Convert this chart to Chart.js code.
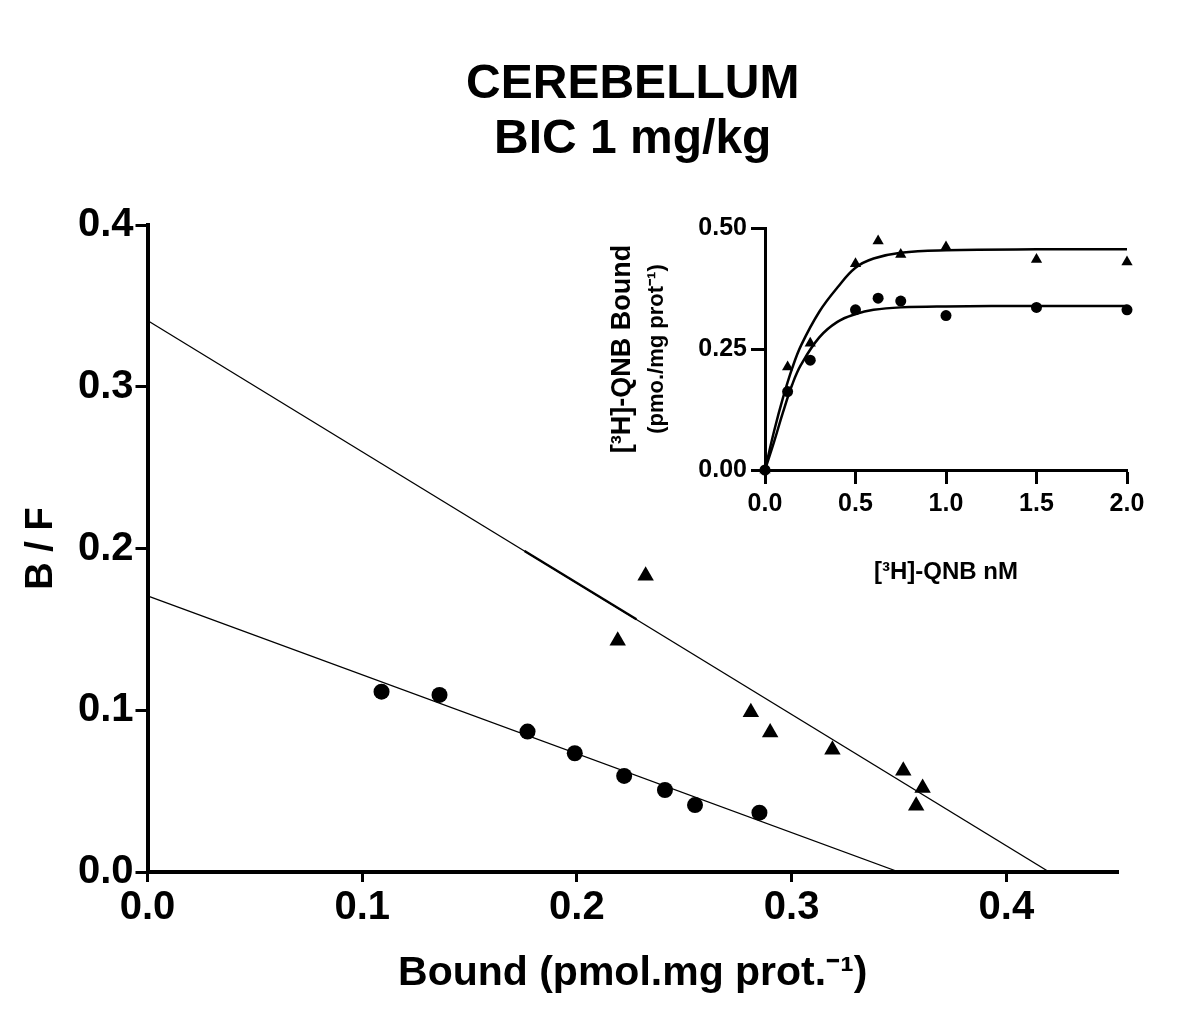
<!DOCTYPE html>
<html>
<head>
<meta charset="utf-8">
<script src="https://cdn.jsdelivr.net/npm/chart.js@4.4.1/dist/chart.umd.min.js"></script>
<style>
body { margin: 0; background: #fff; }
#wrap { position: relative; width: 1200px; height: 1009px; }
#mainChart { position: absolute; left: 0; top: 0; }
#insetChart { position: absolute; left: 590px; top: 195px; }
</style>
</head>
<body>
<div id="wrap">
<canvas id="mainChart" width="1200" height="1009"></canvas>
<canvas id="insetChart" width="570" height="405"></canvas>
</div>
<script>
// Scatchard plot (main)
var circleBound = [0.109, 0.136, 0.177, 0.199, 0.222, 0.241, 0.255, 0.285];
var circleBF    = [0.1115, 0.1095, 0.0868, 0.0734, 0.0594, 0.0507, 0.0414, 0.0367];
var triBound    = [0.232, 0.219, 0.281, 0.290, 0.319, 0.352, 0.361, 0.358];
var triBF       = [0.1832, 0.1430, 0.0987, 0.0863, 0.0756, 0.0626, 0.0519, 0.0410];

var circleFitBound = [0, 0.350];
var circleFitBF    = [0.1707, 0];
var triFitBound    = [0, 0.420];
var triFitBF       = [0.341, 0];
var triFitBoldBound = [0.1756, 0.2277];
var triFitBoldBF    = [0.1985, 0.1562];

var mainXTicks = [0, 0.1, 0.2, 0.3, 0.4];
var mainYTicks = [0, 0.1, 0.2, 0.3, 0.4];

// saturation curves (inset)
var conc        = [0, 0.125, 0.25, 0.5, 0.625, 0.75, 1.0, 1.5, 2.0];
var insetTri    = [0, 0.213, 0.262, 0.426, 0.473, 0.445, 0.461, 0.435, 0.430];
var insetCircle = [0, 0.162, 0.227, 0.331, 0.355, 0.349, 0.319, 0.336, 0.331];
var curveConc   = [0, 0.05, 0.1, 0.15, 0.2, 0.3, 0.4, 0.5, 0.6, 0.75, 1.0, 1.5, 2.0];
var curveTri    = [0, 0.080, 0.150, 0.210, 0.258, 0.327, 0.377, 0.418, 0.437, 0.449, 0.454, 0.456, 0.456];
var curveCircle = [0, 0.058, 0.120, 0.176, 0.218, 0.274, 0.306, 0.322, 0.331, 0.336, 0.338, 0.339, 0.339];

var insetXTicks = [0, 0.5, 1.0, 1.5, 2.0];
var insetYTicks = [0, 0.25, 0.5];

function pts(xs, ys) {
	var out = [];
	for (var i = 0; i < xs.length; i++) {
		out.push({x: xs[i], y: ys[i]});
	}
	return out;
}

Chart.defaults.font.family = "'Liberation Sans', Arial, Helvetica, sans-serif";
Chart.defaults.color = "#000";

var mainChart = new Chart(document.getElementById("mainChart"), {
	type: "scatter",
	data: {
		datasets: [
			{ data: pts(circleBound, circleBF), pointStyle: "circle", pointRadius: 8, backgroundColor: "#000", borderColor: "#000", borderWidth: 0 },
			{ data: pts(triBound, triBF), pointStyle: "triangle", pointRadius: 9.5, backgroundColor: "#000", borderColor: "#000", borderWidth: 0 },
			{ data: pts(circleFitBound, circleFitBF), showLine: true, pointRadius: 0, borderColor: "#000", borderWidth: 1.3 },
			{ data: pts(triFitBound, triFitBF), showLine: true, pointRadius: 0, borderColor: "#000", borderWidth: 1.3 },
			{ data: pts(triFitBoldBound, triFitBoldBF), showLine: true, pointRadius: 0, borderColor: "#000", borderWidth: 2.4 }
		]
	},
	options: {
		responsive: false,
		animation: false,
		devicePixelRatio: 1,
		layout: { padding: { left: 15, right: 82, top: 0, bottom: 6.4 } },
		plugins: {
			legend: { display: false },
			tooltip: { enabled: false },
			title: {
				display: true,
				fullSize: false,
				text: ["CEREBELLUM", "BIC 1 mg/kg"],
				color: "#000",
				font: { size: 48, weight: "bold", lineHeight: 1.15 },
				padding: { top: 57, bottom: 57.6 }
			}
		},
		scales: {
			x: {
				type: "linear",
				min: 0,
				max: 0.452,
				afterFit: function(s) { s.height = 130.6; },
				afterBuildTicks: function(s) { s.ticks = mainXTicks.map(function(v) { return {value: v}; }); },
				border: { display: true, color: "#000", width: 4 },
				grid: { drawOnChartArea: false, drawTicks: true, tickLength: 10, tickWidth: 3, tickColor: "#000" },
				ticks: { padding: 2, color: "#000", font: { size: 40, weight: "bold" }, callback: function(v) { return v.toFixed(1); } },
				title: { display: true, text: "Bound (pmol.mg prot.\u207B\u00B9)", color: "#000", font: { size: 41, weight: "bold" } }
			},
			y: {
				type: "linear",
				min: 0,
				max: 0.4,
				afterFit: function(s) { s.width = 132.5; },
				afterBuildTicks: function(s) { s.ticks = mainYTicks.map(function(v) { return {value: v}; }); },
				border: { display: true, color: "#000", width: 4 },
				grid: { drawOnChartArea: false, drawTicks: true, tickLength: 12, tickWidth: 3, tickColor: "#000" },
				ticks: { padding: 2, color: "#000", font: { size: 40, weight: "bold" }, callback: function(v) { return v.toFixed(1); } },
				title: { display: true, text: "B / F", color: "#000", font: { size: 38, weight: "bold" } }
			}
		}
	}
});

var insetChart = new Chart(document.getElementById("insetChart"), {
	type: "scatter",
	data: {
		datasets: [
			{ data: pts(conc, insetTri), pointStyle: "triangle", pointRadius: 6.5, backgroundColor: "#000", borderColor: "#000", borderWidth: 0, clip: false },
			{ data: pts(conc, insetCircle), pointStyle: "circle", pointRadius: 5.5, backgroundColor: "#000", borderColor: "#000", borderWidth: 0, clip: false },
			{ data: pts(curveConc, curveTri), showLine: true, pointRadius: 0, borderColor: "#000", borderWidth: 2.5, tension: 0.4, clip: false },
			{ data: pts(curveConc, curveCircle), showLine: true, pointRadius: 0, borderColor: "#000", borderWidth: 2.5, tension: 0.4, clip: false }
		]
	},
	options: {
		responsive: false,
		animation: false,
		devicePixelRatio: 1,
		layout: { padding: { left: 12, right: 33, top: 33, bottom: 9.6 } },
		plugins: {
			legend: { display: false },
			tooltip: { enabled: false }
		},
		scales: {
			x: {
				type: "linear",
				min: 0,
				max: 2,
				afterFit: function(s) { s.height = 120.4; },
				afterBuildTicks: function(s) { s.ticks = insetXTicks.map(function(v) { return {value: v}; }); },
				border: { display: true, color: "#000", width: 3 },
				grid: { drawOnChartArea: false, drawTicks: true, tickLength: 14, tickWidth: 3, tickColor: "#000" },
				ticks: { padding: 5, color: "#000", font: { size: 25, weight: "bold" }, callback: function(v) { return v.toFixed(1); } },
				title: { display: true, text: "[\u00B3H]-QNB nM", color: "#000", font: { size: 24, weight: "bold" } }
			},
			y: {
				type: "linear",
				position: "left",
				weight: 0,
				min: 0,
				max: 0.5,
				afterFit: function(s) { s.width = 75; },
				afterBuildTicks: function(s) { s.ticks = insetYTicks.map(function(v) { return {value: v}; }); },
				border: { display: true, color: "#000", width: 3 },
				grid: { drawOnChartArea: false, drawTicks: true, tickLength: 14, tickWidth: 3, tickColor: "#000" },
				ticks: { padding: 4, color: "#000", font: { size: 25, weight: "bold" }, callback: function(v) { return v.toFixed(2); } }
			},
			yUnit: {
				type: "linear",
				position: "left",
				weight: 1,
				afterFit: function(s) { s.width = 50; },
				border: { display: false },
				grid: { display: false },
				ticks: { display: false },
				title: { display: true, text: "(pmo./mg prot\u207B\u00B9)", color: "#000", font: { size: 22, weight: "bold" } }
			},
			yName: {
				type: "linear",
				position: "left",
				weight: 2,
				afterFit: function(s) { s.width = 38; },
				border: { display: false },
				grid: { display: false },
				ticks: { display: false },
				title: { display: true, text: "[\u00B3H]-QNB Bound", color: "#000", font: { size: 27, weight: "bold" } }
			}
		}
	}
});
</script>
</body>
</html>
